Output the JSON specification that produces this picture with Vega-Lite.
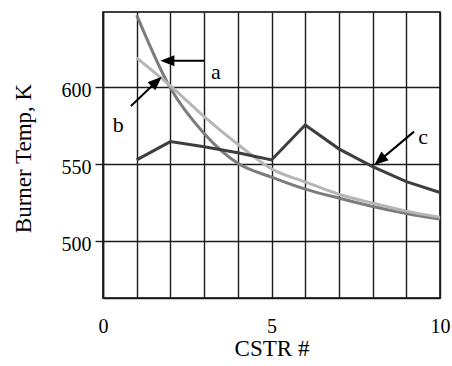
{
  "$schema": "https://vega.github.io/schema/vega-lite/v6.json",
  "width": 337,
  "height": 286,
  "autosize": "none",
  "padding": {"left": 103, "top": 12, "right": 12, "bottom": 68},
  "background": "white",
  "config": {
    "view": {"stroke": "black", "strokeWidth": 1.5},
    "font": "Liberation Serif"
  },
  "datasets": {
    "ab": [
      {"series": "a", "x": 1, "y": 647},
      {"series": "a", "x": 2, "y": 599.5},
      {"series": "a", "x": 3, "y": 570},
      {"series": "a", "x": 4, "y": 550.6},
      {"series": "a", "x": 5, "y": 541.6},
      {"series": "a", "x": 6, "y": 533.8},
      {"series": "a", "x": 7, "y": 528},
      {"series": "a", "x": 8, "y": 522.5},
      {"series": "a", "x": 9, "y": 518},
      {"series": "a", "x": 10, "y": 514.3},
      {"series": "b", "x": 1, "y": 619.2},
      {"series": "b", "x": 2, "y": 601},
      {"series": "b", "x": 3, "y": 581},
      {"series": "b", "x": 4, "y": 563},
      {"series": "b", "x": 5, "y": 547},
      {"series": "b", "x": 6, "y": 538.5},
      {"series": "b", "x": 7, "y": 530.5},
      {"series": "b", "x": 8, "y": 524.7},
      {"series": "b", "x": 9, "y": 519.5},
      {"series": "b", "x": 10, "y": 515.6}
    ],
    "c": [
      {"series": "c", "x": 1, "y": 552.8},
      {"series": "c", "x": 2, "y": 564.7},
      {"series": "c", "x": 3, "y": 561.4},
      {"series": "c", "x": 4, "y": 557.5},
      {"series": "c", "x": 5, "y": 552.8},
      {"series": "c", "x": 6, "y": 575.5},
      {"series": "c", "x": 7, "y": 560},
      {"series": "c", "x": 8, "y": 548.4},
      {"series": "c", "x": 9, "y": 538.7},
      {"series": "c", "x": 10, "y": 531.6}
    ],
    "shafts": [
      {"x": 3, "y": 617.3, "x2": 1.95, "y2": 617.3},
      {"x": 0.83, "y": 587.9, "x2": 1.59, "y2": 603.8},
      {"x": 9.23, "y": 571.2, "x2": 8.21, "y2": 552.5}
    ],
    "heads": [
      {"x": 1.91, "y": 617.3, "angle": 270},
      {"x": 1.59, "y": 603.8, "angle": 47},
      {"x": 8.21, "y": 552.5, "angle": 230}
    ],
    "letters": [
      {"x": 3.35, "y": 610.1, "label": "a"},
      {"x": 0.45, "y": 575.5, "label": "b"},
      {"x": 9.5, "y": 567.5, "label": "c"}
    ]
  },
  "encoding": {
    "x": {
      "field": "x", "type": "quantitative",
      "scale": {"domain": [0, 10], "nice": false, "zero": false},
      "axis": {
        "title": "CSTR #",
        "values": [0, 1, 2, 3, 4, 5, 6, 7, 8, 9, 10],
        "tickCount": 30,
        "format": "d",
        "labelExpr": "datum.value == 0 || datum.value == 5 || datum.value == 10 ? datum.label : ''",
        "labelOverlap": false,
        "grid": true, "gridColor": "#1a1a1a", "gridWidth": 1.4, "gridOpacity": 1,
        "domainColor": "#1a1a1a", "domainWidth": 1.5,
        "ticks": false,
        "labelFont": "Liberation Serif", "labelFontSize": 20, "labelColor": "black",
        "labelPadding": 18, "labelFlush": false, "labelBound": false,
        "titleFont": "Liberation Serif", "titleFontSize": 23, "titleFontWeight": "normal",
        "titleColor": "black", "titleBaseline": "alphabetic", "titleY": 57
      }
    },
    "y": {
      "field": "y", "type": "quantitative",
      "scale": {"domain": [463, 649], "nice": false, "zero": false},
      "axis": {
        "title": "Burner Temp, K",
        "values": [500, 550, 600],
        "tickCount": 10,
        "format": "d",
        "labelOverlap": false,
        "grid": true, "gridColor": "#1a1a1a", "gridWidth": 1.4, "gridOpacity": 1,
        "domainColor": "#1a1a1a", "domainWidth": 1.5,
        "tickColor": "#1a1a1a", "tickSize": 8, "tickWidth": 1.4,
        "labelFont": "Liberation Serif", "labelFontSize": 20, "labelColor": "black",
        "labelPadding": 4, "labelOffset": 3,
        "titleFont": "Liberation Serif", "titleFontSize": 23, "titleFontWeight": "normal",
        "titleColor": "black", "titleX": -68, "titleY": 146
      }
    }
  },
  "layer": [
    {
      "data": {"name": "ab"},
      "mark": {"type": "line", "interpolate": "monotone", "strokeWidth": 3},
      "encoding": {
        "color": {
          "field": "series", "type": "nominal",
          "scale": {"domain": ["a", "b", "c"], "range": ["#7c7c7c", "#b6b6b6", "#3e3e3e"]},
          "legend": null
        },
        "order": {"field": "series", "sort": "descending"}
      }
    },
    {
      "data": {"name": "c"},
      "mark": {"type": "line", "strokeWidth": 3, "color": "#3e3e3e"},
      "encoding": {}
    },
    {
      "data": {"name": "shafts"},
      "mark": {"type": "rule", "color": "black", "strokeWidth": 2},
      "encoding": {
        "x2": {"field": "x2"},
        "y2": {"field": "y2"}
      }
    },
    {
      "data": {"name": "heads"},
      "mark": {"type": "point", "shape": "M0,-1L0.8,1L-0.8,1Z", "filled": true, "color": "black", "size": 196, "opacity": 1},
      "encoding": {
        "angle": {"field": "angle", "type": "quantitative", "scale": null}
      }
    },
    {
      "data": {"name": "letters"},
      "mark": {"type": "text", "font": "Liberation Serif", "fontSize": 22, "color": "black", "align": "center", "baseline": "middle"},
      "encoding": {
        "text": {"field": "label"}
      }
    }
  ]
}
